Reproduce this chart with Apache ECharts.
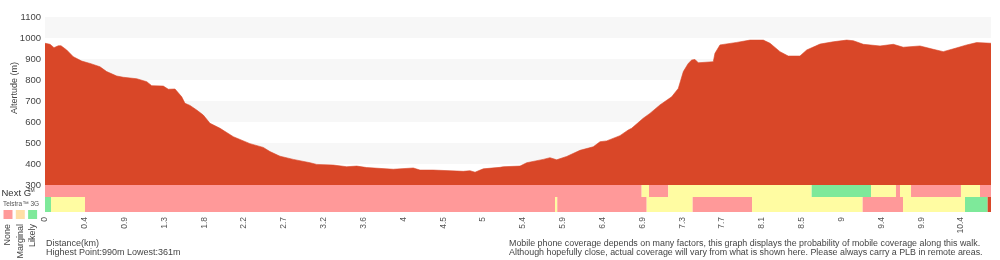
<!DOCTYPE html>
<html><head><meta charset="utf-8">
<script src="https://cdn.jsdelivr.net/npm/echarts@6/dist/echarts.min.js"></script>
<style>html,body{margin:0;padding:0;background:#fff}#c{width:1000px;height:260px}</style>
</head><body><div id="c"></div>
<script>
// ---- data ----
const tickLabels = ['0','0.4','0.9','1.3','1.8','2.2','2.7','3.2','3.6','4','4.5','5','5.4','5.9','6.4','6.9','7.3','7.7','8.1','8.5','9','9.4','9.9','10.4'];
const labelStepKm = 0.45217;
const totalKm = 10.74;
const profileKm = [0,0.057,0.102,0.151,0.182,0.246,0.321,0.417,0.511,0.624,0.700,0.814,0.889,1.041,1.155,1.211,1.343,1.400,1.476,1.552,1.589,1.646,1.722,1.797,1.873,1.987,2.006,2.138,2.327,2.478,2.554,2.668,2.819,3.009,3.085,3.273,3.425,3.539,3.652,3.954,4.181,4.257,4.408,4.598,4.749,4.825,4.882,4.976,5.166,5.203,5.393,5.469,5.657,5.733,5.809,5.923,6.074,6.225,6.301,6.377,6.528,6.622,6.660,6.792,6.868,6.981,7.115,7.190,7.247,7.303,7.342,7.379,7.417,7.587,7.606,7.663,7.853,8.004,8.155,8.231,8.344,8.438,8.571,8.648,8.799,8.950,9.102,9.177,9.290,9.480,9.631,9.744,9.934,10.085,10.198,10.335,10.464,10.577,10.740];
const profileAlt = [975,970,954,963,963,943,911,890,879,863,840,819,813,806,792,773,771,756,757,720,689,679,657,633,594,570,562,530,497,479,459,437,422,406,398,395,387,390,383,375,381,371,371,368,365,368,361,377,384,387,390,406,422,430,420,436,465,482,506,510,535,562,570,618,641,681,720,760,840,879,895,898,882,887,927,967,979,990,990,975,935,914,914,943,971,982,990,987,970,962,970,956,962,946,935,951,967,978,975];
// coverage: 0 = None, 1 = Marginal, 2 = Likely, 3 = no data
const nextGBreaks = [0,6.774,6.857,7.076,8.704,9.378,9.661,9.707,9.832,10.399,10.615,10.74];
const nextGLevels = [0,1,0,1,2,1,0,1,0,1,0];
const g3Breaks = [0,0.068,0.454,5.790,5.816,6.831,7.353,8.027,9.283,9.741,10.445,10.702,10.74];
const g3Levels = [2,1,0,1,0,1,0,1,0,1,2,3];
const legendNames = ['None','Marginal','Likely'];

// ---- style ----
const levelColors = ['#ff9999','#fffca2','#7ee99a','#d94728'];
const legendColors = ['#ff9a9a','#ffdfa6','#7ee99a'];
const FONT = 'Liberation Sans, Arial, Helvetica, sans-serif';

function segs(breaks, levels){
  return levels.map((l,i)=>[breaks[i], breaks[i+1], l]);
}
function renderCov(params, api){
  const a = api.coord([api.value(0), 0]);
  const b = api.coord([api.value(1), 1]);
  return {type:'rect', shape:{x:a[0], y:b[1], width:b[0]-a[0], height:a[1]-b[1]},
    style:{fill: levelColors[api.value(2)]}};
}
const hiddenX = (gi)=>({type:'value', gridIndex:gi, min:0, max:totalKm, show:false});
const hiddenY = (gi)=>({type:'value', gridIndex:gi, min:0, max:1, show:false});

const chart = echarts.init(document.getElementById('c'), null, {renderer:'canvas'});
const graphics = [
  {type:'text', x:15, y:88, rotation:Math.PI/2, style:{text:'Altertude (m)', font:'9px '+FONT, fill:'#444', align:'center', verticalAlign:'middle'}},
  {type:'text', x:1.5, y:193.5, style:{text:'Next G', font:'9.5px '+FONT, fill:'#333', align:'left', verticalAlign:'middle'}},
  {type:'text', x:27.5, y:190.5, z:100, style:{text:'TM', font:'5px '+FONT, fill:'#333', align:'left', verticalAlign:'middle'}},
  {type:'text', x:3, y:204, style:{text:'Telstra™ 3G', font:'6.5px '+FONT, fill:'#555', align:'left', verticalAlign:'middle'}},
  {type:'text', x:46, y:243.5, style:{text:'Distance(km)', font:'9px '+FONT, fill:'#444', align:'left', verticalAlign:'middle'}},
  {type:'text', x:46, y:252.5, style:{text:'Highest Point:'+Math.max(...profileAlt)+'m Lowest:'+Math.min(...profileAlt)+'m', font:'9px '+FONT, fill:'#444', align:'left', verticalAlign:'middle'}},
  {type:'text', x:509, y:243.5, style:{text:'Mobile phone coverage depends on many factors, this graph displays the probability of mobile coverage along this walk.', font:'8.9px '+FONT, fill:'#444', align:'left', verticalAlign:'middle'}},
  {type:'text', x:509, y:253, style:{text:'Although hopefully close, actual coverage will vary from what is shown here. Please always carry a PLB in remote areas.', font:'8.9px '+FONT, fill:'#444', align:'left', verticalAlign:'middle'}}
];
legendNames.forEach((n,i)=>{
  const cx = 8 + i*12.3;
  graphics.push({type:'rect', shape:{x:cx-4.5, y:210, width:9, height:9}, style:{fill:legendColors[i]}});
  graphics.push({type:'text', x:cx, y:224, rotation:Math.PI/2, style:{text:n, font:'9px '+FONT, fill:'#444', align:'right', verticalAlign:'middle'}});
});

chart.setOption({
  animation:false,
  backgroundColor:'#fff',
  textStyle:{fontFamily:FONT},
  grid:[
    {left:45, top:17, width:946, height:168, outerBoundsMode:'none', containLabel:false},
    {left:45, top:185, width:946, height:12, outerBoundsMode:'none', containLabel:false},
    {left:45, top:197, width:946, height:15, outerBoundsMode:'none', containLabel:false}
  ],
  xAxis:[
    hiddenX(0), hiddenX(1),
    {type:'value', gridIndex:2, min:0, max:totalKm, interval:labelStepKm,
     axisLine:{show:false}, axisTick:{show:false}, splitLine:{show:false},
     axisLabel:{rotate:90, margin:5, fontSize:8.5, color:'#555', fontFamily:FONT,
       showMaxLabel:false,
       formatter:(v)=>{const i=Math.round(v/labelStepKm); return (Math.abs(v-i*labelStepKm)<0.01 && tickLabels[i]!==undefined)?tickLabels[i]:'';}}}
  ],
  yAxis:[
    {type:'value', gridIndex:0, min:300, max:1100, interval:100,
     axisLine:{show:false}, axisTick:{show:false}, splitLine:{show:false},
     splitArea:{show:true, areaStyle:{color:['#ffffff','#f7f7f7']}},
     axisLabel:{margin:4, fontSize:9.5, color:'#444', fontFamily:FONT, formatter:(v)=>String(v)}},
    hiddenY(1), hiddenY(2)
  ],
  series:[
    {type:'line', xAxisIndex:0, yAxisIndex:0, data:profileKm.map((k,i)=>[k, profileAlt[i]]),
     symbol:'none', smooth:false, lineStyle:{width:0.6, color:'#d94728'}, areaStyle:{color:'#d94728', opacity:1, origin:'start'}},
    {type:'custom', xAxisIndex:1, yAxisIndex:1, renderItem:renderCov, encode:{x:[0,1]}, data:segs(nextGBreaks, nextGLevels)},
    {type:'custom', xAxisIndex:2, yAxisIndex:2, renderItem:renderCov, encode:{x:[0,1]}, data:segs(g3Breaks, g3Levels)}
  ],
  graphic:graphics
});
</script></body></html>
